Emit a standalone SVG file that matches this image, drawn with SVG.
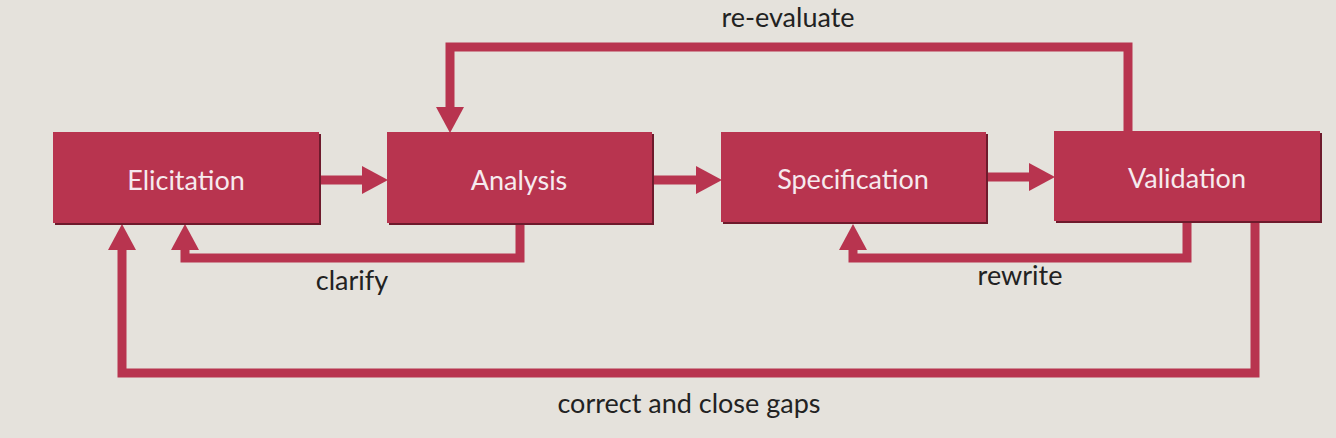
<svg xmlns="http://www.w3.org/2000/svg" width="1336" height="438" viewBox="0 0 1336 438">
<defs>
<style>
.box{fill:#B8344F;}
.shadow{fill:#6E1A2C;}
.lbl{font-family:Lato,"Open Sans","Liberation Sans",sans-serif;font-size:27px;fill:#F6EAEE;text-anchor:middle;}
.cap{font-family:Lato,"Open Sans","Liberation Sans",sans-serif;font-size:27px;fill:#222;text-anchor:middle;}
.conn{fill:none;stroke:#B8344F;stroke-width:9;stroke-linejoin:miter;}
</style>
<marker id="ah" markerUnits="userSpaceOnUse" viewBox="0 0 27 28" markerWidth="27" markerHeight="28" refX="6" refY="14" orient="auto">
<path d="M0,0 L26,14 L0,28 z" fill="#B8344F"/>
</marker>
</defs>
<rect width="1336" height="438" fill="#E5E2DC"/>
<g id="connectors">
<path class="conn" d="M1128,132 V47 H450 V113" marker-end="url(#ah)"/>
<path class="conn" d="M320,180 H368" marker-end="url(#ah)"/>
<path class="conn" d="M653,180 H702" marker-end="url(#ah)"/>
<path class="conn" d="M987,177 H1035" marker-end="url(#ah)"/>
<path class="conn" d="M520,222 V258 H185 V244" marker-end="url(#ah)"/>
<path class="conn" d="M1187,221 V258 H853 V244" marker-end="url(#ah)"/>
<path class="conn" d="M1255,221 V373 H122 V244" marker-end="url(#ah)"/>
</g>
<g id="elicitation">
<rect class="shadow" x="55" y="134" width="266" height="91"/>
<rect class="box" x="53" y="132" width="266" height="91"/>
<text class="lbl" x="186" y="190">Elicitation</text>
</g>
<g id="analysis">
<rect class="shadow" x="389" y="134" width="265" height="91"/>
<rect class="box" x="387" y="132" width="265" height="91"/>
<text class="lbl" x="519" y="190">Analysis</text>
</g>
<g id="specification">
<rect class="shadow" x="723" y="134" width="265" height="90"/>
<rect class="box" x="721" y="132" width="265" height="90"/>
<text class="lbl" x="853" y="189">Specification</text>
</g>
<g id="validation">
<rect class="shadow" x="1056" y="133" width="266" height="90"/>
<rect class="box" x="1054" y="131" width="266" height="90"/>
<text class="lbl" x="1187" y="188">Validation</text>
</g>
<g id="labels">
<text class="cap" x="788" y="27">re-evaluate</text>
<text class="cap" x="352" y="290">clarify</text>
<text class="cap" x="1020" y="285">rewrite</text>
<text class="cap" x="689" y="413">correct and close gaps</text>
</g>
</svg>
